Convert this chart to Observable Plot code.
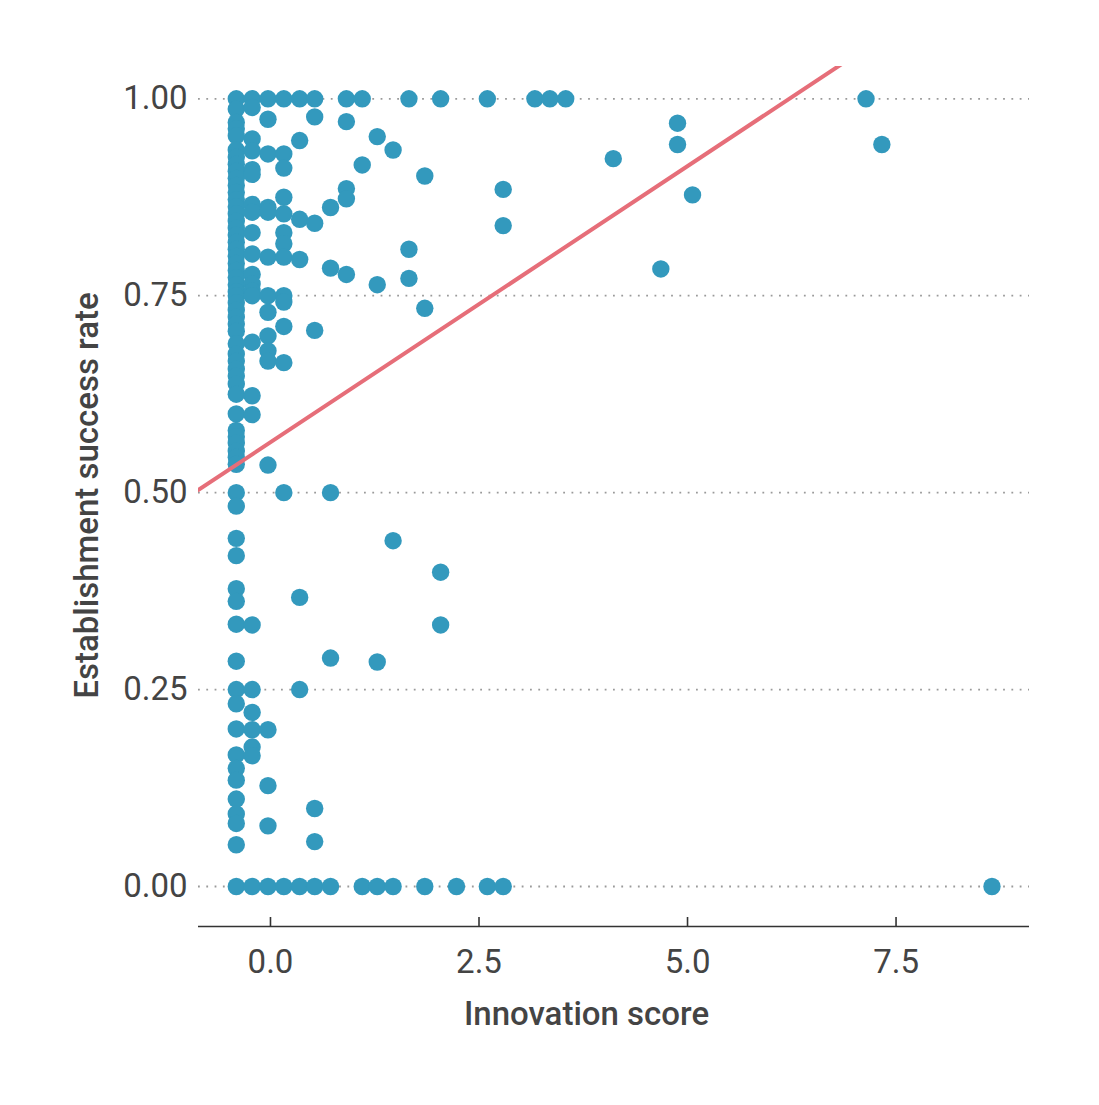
<!DOCTYPE html>
<html>
<head>
<meta charset="utf-8">
<script src="https://cdn.jsdelivr.net/npm/d3@7"></script>
<script src="https://cdn.jsdelivr.net/npm/@observablehq/plot@0.6"></script>
<style>
  body { margin: 0; background: #fff; font-family: Roboto, "Noto Sans", sans-serif; }
</style>
</head>
<body>
<div id="chart"></div>
<script>
// ---- labels & ticks ----
const xLabel = "Innovation score";
const yLabel = "Establishment success rate";
const xTicks = [0, 2.5, 5, 7.5];
const yTicks = [0, 0.25, 0.5, 0.75, 1];
const xDomain = [-0.863, 9.10];
const yDomain = [-0.0508, 1.041];

// ---- fitted line ----
const fitIntercept = 0.564;
const fitSlope = 0.0701;

// ---- data: innovation scores (discrete columns) and success rates per column ----
const scores = [-0.41, -0.22, -0.03, 0.16, 0.35, 0.53, 0.72, 0.91, 1.10, 1.28, 1.47, 1.66, 1.85, 2.04, 2.23, 2.60, 2.79, 3.17, 3.35, 3.54, 4.11, 4.68, 4.88, 5.06, 7.14, 7.33, 8.65];
const ratesCol0 = [1.000, 0.987, 0.970, 0.962, 0.953, 0.935, 0.926, 0.917, 0.908, 0.899, 0.890, 0.881, 0.872, 0.863, 0.854, 0.845, 0.836, 0.827, 0.818, 0.809, 0.800, 0.791, 0.782, 0.773, 0.764, 0.755, 0.750, 0.741, 0.732, 0.723, 0.714, 0.705, 0.689, 0.676, 0.667, 0.657, 0.648, 0.638, 0.625, 0.600, 0.579, 0.571, 0.563, 0.553, 0.545, 0.536, 0.500, 0.483, 0.442, 0.420, 0.378, 0.362, 0.333, 0.286, 0.250, 0.232, 0.200, 0.167, 0.150, 0.135, 0.111, 0.092, 0.080, 0.053, 0.000];
const ratesCol1 = [1.000, 0.989, 0.949, 0.934, 0.910, 0.904, 0.866, 0.856, 0.830, 0.803, 0.777, 0.765, 0.756, 0.750, 0.691, 0.623, 0.599, 0.332, 0.250, 0.221, 0.199, 0.177, 0.166, 0.000];
const ratesCol2 = [1.000, 0.974, 0.930, 0.862, 0.856, 0.799, 0.750, 0.729, 0.699, 0.680, 0.667, 0.535, 0.199, 0.128, 0.077, 0.000];
const ratesCol3 = [1.000, 0.930, 0.912, 0.875, 0.854, 0.830, 0.816, 0.799, 0.750, 0.742, 0.711, 0.665, 0.500, 0.000];
const ratesCol4 = [1.000, 0.947, 0.847, 0.796, 0.367, 0.250, 0.000];
const ratesCol5 = [1.000, 0.977, 0.842, 0.706, 0.099, 0.057, 0.000];
const ratesCol6 = [0.862, 0.785, 0.500, 0.290, 0.000];
const ratesCol7 = [1.000, 0.971, 0.886, 0.873, 0.777];
const ratesCol8 = [1.000, 0.916, 0.000];
const ratesCol9 = [0.952, 0.764, 0.285, 0.000];
const ratesCol10 = [0.935, 0.439, 0.000];
const ratesCol11 = [1.000, 0.809, 0.772];
const ratesCol12 = [0.902, 0.734, 0.000];
const ratesCol13 = [1.000, 0.399, 0.332];
const ratesCol14 = [0.000];
const ratesCol15 = [1.000, 0.000];
const ratesCol16 = [0.885, 0.839, 0.000];
const ratesCol17 = [1.000];
const ratesCol18 = [1.000];
const ratesCol19 = [1.000];
const ratesCol20 = [0.924];
const ratesCol21 = [0.784];
const ratesCol22 = [0.969, 0.942];
const ratesCol23 = [0.878];
const ratesCol24 = [1.000];
const ratesCol25 = [0.942];
const ratesCol26 = [0.000];

const rateLists = [ratesCol0, ratesCol1, ratesCol2, ratesCol3, ratesCol4, ratesCol5, ratesCol6, ratesCol7, ratesCol8, ratesCol9, ratesCol10, ratesCol11, ratesCol12, ratesCol13, ratesCol14, ratesCol15, ratesCol16, ratesCol17, ratesCol18, ratesCol19, ratesCol20, ratesCol21, ratesCol22, ratesCol23, ratesCol24, ratesCol25, ratesCol26];

const points = scores.flatMap((s, i) => rateLists[i].map((r) => ({score: s, rate: r})));
const fitLine = xDomain.map((x) => ({score: x, rate: fitIntercept + fitSlope * x}));

// ---- layout ----
const W = 1099, H = 1105;
const mL = 198, mR = 70, mT = 66, mB = 179;
const frameH = H - mT - mB;

const chart = Plot.plot({
  width: W,
  height: H,
  marginLeft: mL,
  marginRight: mR,
  marginTop: mT,
  marginBottom: mB,
  style: {fontFamily: "Roboto, 'Noto Sans', sans-serif", fontSize: "33px", color: "#444", background: "#fff"},
  x: {domain: xDomain},
  y: {domain: yDomain},
  marks: [
    Plot.gridY(yTicks, {stroke: "#9a9a9a", strokeOpacity: 1, strokeWidth: 1.8, strokeDasharray: "1.8,6.5"}),
    Plot.axisY(yTicks, {tickSize: 0, tickPadding: 11, tickFormat: d3.format(".2f"), fontSize: 33, fill: "#444", label: null}),
    Plot.axisX(xTicks, {tickSize: 0, tickPadding: 23, tickFormat: d3.format(".1f"), fontSize: 33, fill: "#444", label: null}),
    Plot.ruleY([yDomain[0]], {stroke: "#333", strokeWidth: 1.6}),
    Plot.ruleX(xTicks, {stroke: "#333", strokeWidth: 1.6, insetTop: frameH - 9}),
    Plot.dot(points, {x: "score", y: "rate", r: 8.7, fill: "#3399BD", stroke: "none"}),
    Plot.line(fitLine, {x: "score", y: "rate", stroke: "#E66E79", strokeWidth: 4, clip: true}),
    Plot.text([xLabel], {frameAnchor: "bottom", dx: -27.5, dy: 87.5, text: (d) => d, fontSize: 33, fontWeight: 500, fill: "#444", lineAnchor: "middle", textAnchor: "middle"}),
    Plot.text([yLabel], {frameAnchor: "left", dx: -111, dy: -1, rotate: -90, text: (d) => d, fontSize: 33, fontWeight: 500, fill: "#444", lineAnchor: "middle", textAnchor: "middle"})
  ]
});
document.getElementById("chart").appendChild(chart);
</script>
</body>
</html>
